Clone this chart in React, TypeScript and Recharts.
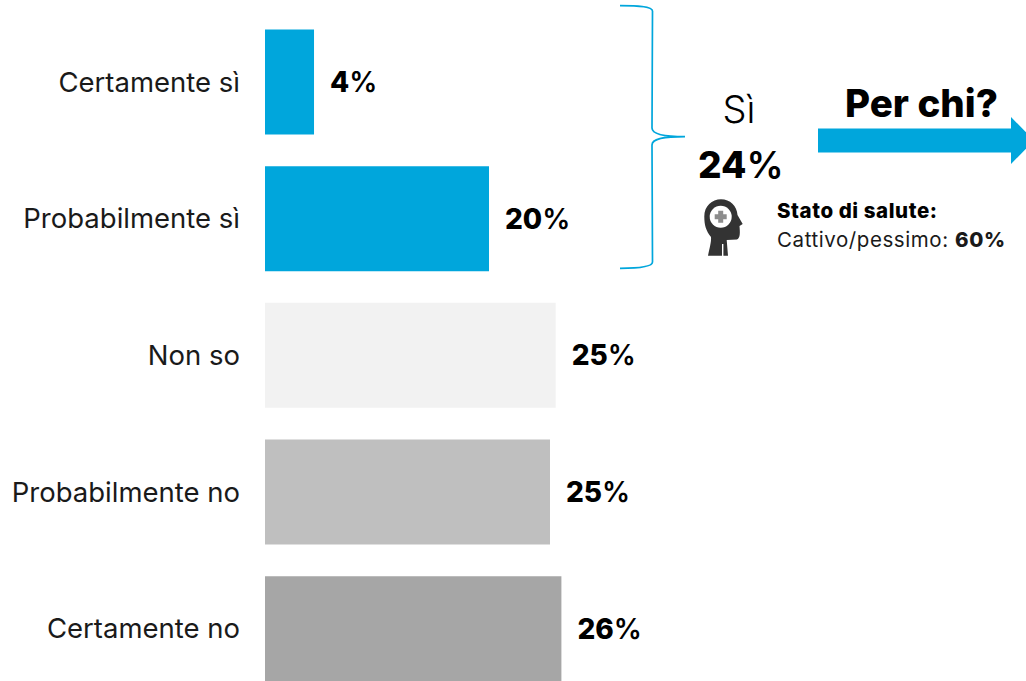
import React from "react";
import { BarChart, Bar, XAxis, YAxis, Cell, LabelList } from "recharts";

const categories = ["Certamente sì", "Probabilmente sì", "Non so", "Probabilmente no", "Certamente no"];
const values = [4.3, 19.65, 25.5, 25, 26];
const numberLabels = ["4", "20", "25", "25", "26"];
const colors = ["#00A6DC", "#00A6DC", "#F2F2F2", "#BFBFBF", "#A6A6A6"];

const rows = categories.map((name, i) => ({ name, value: values[i], label: numberLabels[i] }));

const FONT = "Inter, 'Noto Sans', sans-serif";
const BLUE = "#00A6DC";

function PercentLabel(props: any) {
  const { x, y, width, height, value } = props;
  return (
    <text x={x + width + 16} y={y + height / 2 + 10} fontFamily={FONT} fontSize={28} fill="#000">
      <tspan fontWeight={800}>{value}</tspan>
      <tspan fontWeight={600}>%</tspan>
    </text>
  );
}

function Overlay() {
  return (
    <svg width={1026} height={681} style={{ position: "absolute", left: 0, top: 0, fontFamily: FONT }}>
      <path
        d="M620 5.7 C636 5.7 652.5 6 652.5 11 L652 128 C652 134 662 136.7 685 136.7 C662 136.7 652 139 652 145 L652.5 262 C652.5 267 636 268.3 620 268.3"
        fill="none"
        stroke={BLUE}
        strokeWidth={1.7}
      />
      <path d="M818 128.5 H1011 V117 L1034 140.5 L1011 164 V152.5 H818 Z" fill={BLUE} />
      <text x={845} y={117} fontSize={38.5} fontWeight={800} fill="#000">Per chi?</text>
      <text x={739} y={123} fontSize={38} fontWeight={300} textAnchor="middle" fill="#000">Sì</text>
      <text x={698} y={178} fontSize={37} fill="#000">
        <tspan fontWeight={800}>24</tspan>
        <tspan fontWeight={600}>%</tspan>
      </text>
      <text x={777} y={218} fontSize={20.5} fontWeight={800} fill="#000" textLength={160} lengthAdjust="spacing">Stato di salute:</text>
      <text x={777} y={247} fontSize={20.5} fill="#1a1a1a" textLength={228} lengthAdjust="spacing">
        <tspan>Cattivo/pessimo: </tspan>
        <tspan fontWeight={800}>60%</tspan>
      </text>
      <path
        d="M708 255.7 C709.5 248 711.5 242 711 237 C706 231 704.3 225 704.3 216.5 C704.3 206 712 199.3 721 199.3 C730 199.3 737 206 737.5 215 L742.7 224 L739.5 226 C740 232 740.5 238 737 239.5 L726.7 240 L728 255.7 H723.4 V244 H722 V255.7 Z"
        fill="#333"
      />
      <circle cx={720.7} cy={216.7} r={11} fill="#fff" />
      <path
        d="M718.2 210.7 H723.2 V214.2 H726.7 V219.2 H723.2 V222.7 H718.2 V219.2 H714.7 V214.2 H718.2 Z"
        fill="#8C8C8C"
      />
    </svg>
  );
}

export default function App() {
  return (
    <div style={{ position: "absolute", left: 0, top: 0, width: 1026, height: 681, overflow: "hidden", background: "#fff" }}>
      <BarChart
        width={1026}
        height={700}
        data={rows}
        layout="vertical"
        margin={{ top: 13.7, right: 77, bottom: 3, left: 0 }}
        barCategoryGap={15.8}
      >
        <XAxis type="number" hide domain={[0, 60]} />
        <YAxis
          type="category"
          dataKey="name"
          width={265}
          axisLine={false}
          tickLine={false}
          tickSize={0}
          tickMargin={25}
          interval={0}
          tick={{ fontFamily: FONT, fontSize: 27.5, fontWeight: 400, fill: "#1a1a1a" }}
        />
        <Bar dataKey="value" isAnimationActive={false}>
          {rows.map((r, i) => (
            <Cell key={r.name} fill={colors[i]} />
          ))}
          <LabelList dataKey="label" content={PercentLabel} />
        </Bar>
      </BarChart>
      <Overlay />
    </div>
  );
}
